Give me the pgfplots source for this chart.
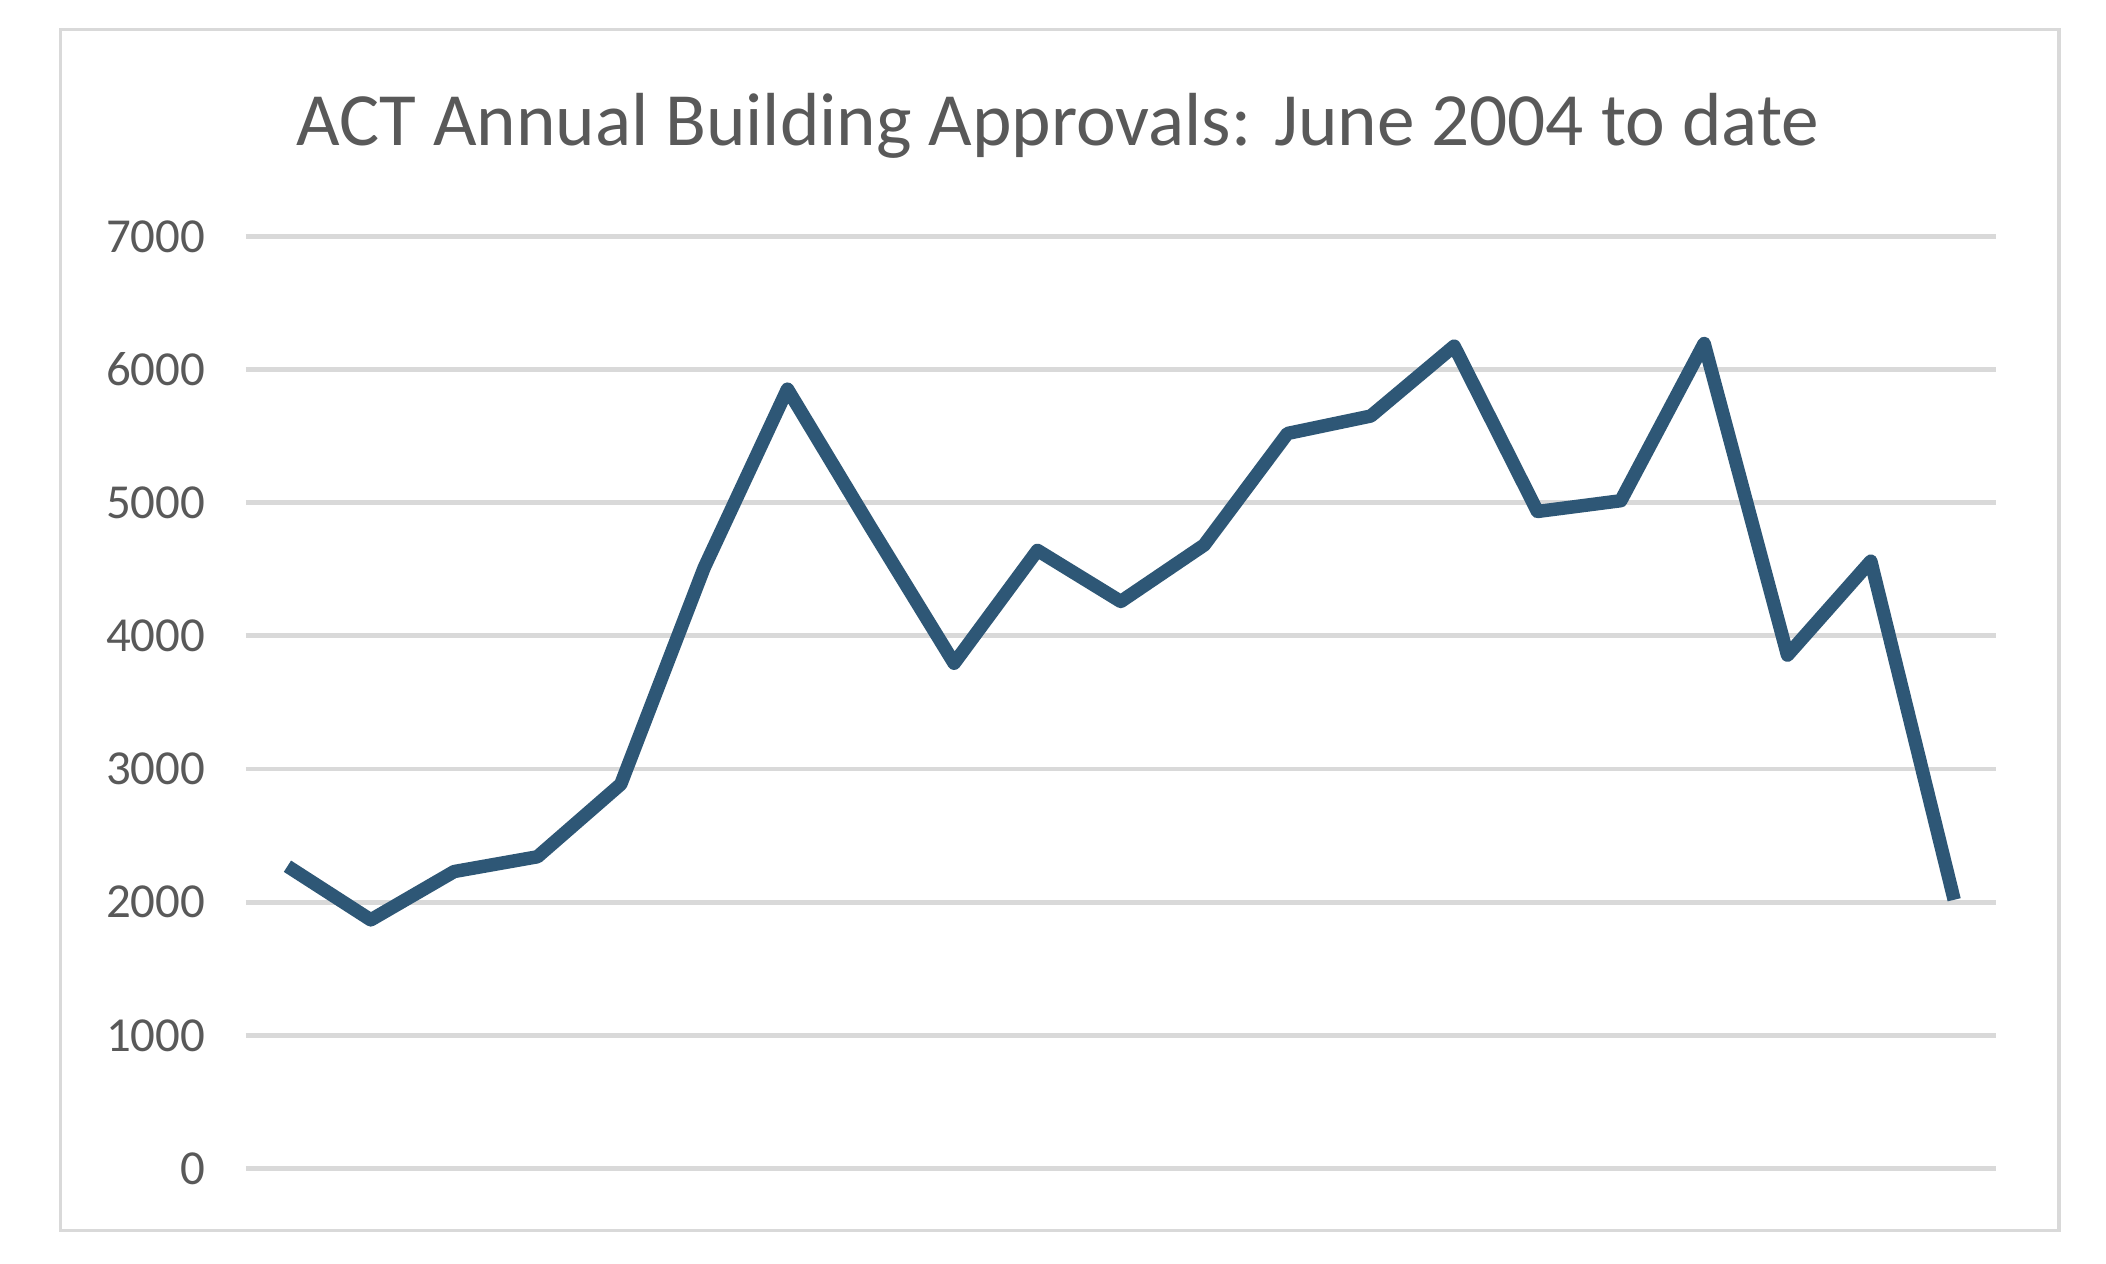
\documentclass[border=0pt]{standalone}
\usepackage{fontspec}
\setmainfont{Carlito}
\usepackage{pgfplots}
\pgfplotsset{compat=1.18}
\definecolor{linec}{RGB}{46,87,118}
\definecolor{gridc}{RGB}{217,217,217}
\definecolor{textc}{RGB}{89,89,89}
\begin{document}
\begin{tikzpicture}
\path[use as bounding box] (-45.75pt,-17.75pt) rectangle (346.25pt,217.5pt);
\fill[white] (-45.75pt,-17.75pt) rectangle (346.25pt,217.5pt);
\draw[gridc, line width=0.6pt] (-34.5pt,-11.5pt) rectangle (337.5pt,212pt);
\node[text=textc, font=\fontsize{14}{16}\selectfont, anchor=base] at (151.1pt,190.5pt) {ACT Annual Building Approvals: June 2004 to date};
\begin{axis}[
  at={(0pt,0pt)}, anchor=south west,
  scale only axis,
  width=325.75pt, height=173.5pt,
  xmin=-0.5, xmax=20.5,
  ymin=0, ymax=7000,
  ytick={0,1000,...,7000},
  xtick=\empty,
  axis line style={draw=none},
  ymajorgrids,
  grid style={gridc, line width=0.9pt},
  major tick length=0pt,
  yticklabel style={text=textc, font=\fontsize{9.1}{10}\selectfont},
  yticklabel={\pgfmathprintnumber[assume math mode=true,1000 sep={}]{\tick}},
  yticklabel style={xshift=-4pt},
  clip=false,
]
\addplot[linec, line width=2.5pt, line join=round, mark=none] coordinates {
(0,2270) (1,1867) (2,2230) (3,2341) (4,2886) (5,4511) (6,5853) (7,4814)
(8,3794) (9,4642) (10,4258) (11,4682) (12,5520) (13,5651) (14,6176)
(15,4934) (16,5015) (17,6196) (18,3855) (19,4561) (20,2018)
};
\end{axis}
\end{tikzpicture}
\end{document}
